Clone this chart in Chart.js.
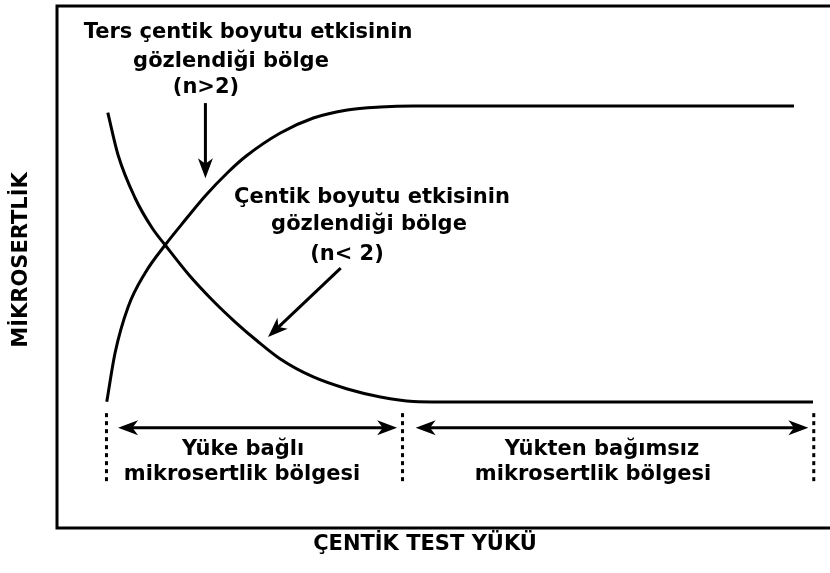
<!DOCTYPE html>
<html>
<head>
<meta charset="utf-8">
<script src="https://cdn.jsdelivr.net/npm/chart.js@4/dist/chart.umd.min.js"></script>
<style>
  html, body { margin: 0; padding: 0; background: #fff; }
  #wrap { width: 830px; height: 573px; }
</style>
</head>
<body>
<div id="wrap"><canvas id="c" width="830" height="573"></canvas></div>
<script>
// Indentation load (x) and microhardness (y), arbitrary units 0..100
const risingLoad = [6.44, 7.51, 9.20, 11.40, 13.99, 16.58, 19.17, 22.15, 24.48, 28.89, 33.16, 37.56, 41.84, 46.11, 95.34];
const risingHardness = [24.20, 33.52, 42.34, 48.85, 54.21, 58.99, 63.60, 68.20, 71.26, 75.67, 78.54, 80.08, 80.65, 80.84, 80.84];
const fallingLoad = [6.57, 7.90, 10.10, 12.31, 13.99, 16.97, 20.08, 23.06, 25.91, 28.89, 33.16, 37.56, 41.84, 46.11, 49.61, 97.80];
const fallingHardness = [79.56, 71.46, 63.22, 57.47, 54.21, 48.66, 43.68, 39.46, 35.82, 32.38, 28.93, 26.63, 25.10, 24.23, 24.14, 24.14];

// Region boundaries along the load axis and the span arrows between them
const boundaryLoads = [6.4, 44.7, 97.9];
const boundaryRange = [8.6, 22.0];
const spanStarts = [7.9, 46.4];
const spanEnds = [44.0, 97.2];
const spanLevel = 19.2;

// Texts
const xTitle = 'ÇENTİK TEST YÜKÜ';
const yTitle = 'MİKROSERTLİK';
const reverseLabel = ['Ters çentik boyutu etkisinin', 'gözlendiği bölge', '(n>2)'];
const normalLabel = ['Çentik boyutu etkisinin', 'gözlendiği bölge', '(n< 2)'];
const regionLabels = [['Yüke bağlı', 'mikrosertlik bölgesi'], ['Yükten bağımsız', 'mikrosertlik bölgesi']];

const toPoints = (xs, ys) => xs.map((x, i) => ({ x: x, y: ys[i] }));

const FONT = 'bold 21px "DejaVu Sans", Verdana, sans-serif';

function arrowHead(ctx, x1, y1, x2, y2, len, half) {
  const a = Math.atan2(y2 - y1, x2 - x1);
  const cos = Math.cos(a), sin = Math.sin(a);
  const bx = x2 - len * cos, by = y2 - len * sin;
  const nx = x2 - len * 0.72 * cos, ny = y2 - len * 0.72 * sin;
  ctx.beginPath();
  ctx.moveTo(x2, y2);
  ctx.lineTo(bx - half * sin, by + half * cos);
  ctx.lineTo(nx, ny);
  ctx.lineTo(bx + half * sin, by - half * cos);
  ctx.closePath();
  ctx.fill();
}

function arrow(ctx, x1, y1, x2, y2, both) {
  const a = Math.atan2(y2 - y1, x2 - x1);
  const c = Math.cos(a), s = Math.sin(a);
  ctx.beginPath();
  ctx.moveTo(both ? x1 + 10 * c : x1, both ? y1 + 10 * s : y1);
  ctx.lineTo(x2 - 10 * c, y2 - 10 * s);
  ctx.stroke();
  arrowHead(ctx, x1, y1, x2, y2, 20, 7.5);
  if (both) arrowHead(ctx, x2, y2, x1, y1, 20, 7.5);
}

const annotations = {
  id: 'annotations',
  afterDatasetsDraw(chart) {
    const ctx = chart.ctx;
    const xs = chart.scales.x, ys = chart.scales.y;
    const area = chart.chartArea;
    const X = v => xs.getPixelForValue(v);
    const Y = v => ys.getPixelForValue(v);
    ctx.save();
    ctx.fillStyle = '#000';
    ctx.strokeStyle = '#000';

    // frame
    ctx.lineWidth = 3;
    ctx.beginPath();
    ctx.moveTo(chart.width, area.top);
    ctx.lineTo(area.left, area.top);
    ctx.lineTo(area.left, area.bottom);
    ctx.lineTo(chart.width, area.bottom);
    ctx.stroke();

    // region boundaries
    ctx.setLineDash([4, 4]);
    boundaryLoads.forEach(b => {
      ctx.beginPath();
      ctx.moveTo(X(b), Y(boundaryRange[1]));
      ctx.lineTo(X(b), Y(boundaryRange[0]));
      ctx.stroke();
    });
    ctx.setLineDash([]);

    // span arrows
    ctx.lineWidth = 3;
    spanStarts.forEach((s, i) => arrow(ctx, X(s), Y(spanLevel), X(spanEnds[i]), Y(spanLevel), true));

    // pointer arrows
    arrow(ctx, X(19.2), Y(81.4), X(19.2), Y(67.0), false);
    arrow(ctx, X(36.7), Y(49.8), X(27.3), Y(36.6), false);

    // texts
    ctx.font = FONT;
    ctx.textAlign = 'center';
    ctx.textBaseline = 'middle';
    const lines = (arr, cx, cy) => arr.forEach((t, i) => ctx.fillText(t, cx[i], cy[i]));
    lines(reverseLabel, [248, 231, 206], [33, 62, 88]);
    lines(normalLabel, [372, 369, 347], [198, 225, 255]);
    lines(regionLabels[0], [243, 242], [450, 475]);
    lines(regionLabels[1], [602, 593], [450, 475]);

    // axis titles
    ctx.fillText(xTitle, 425, 545);
    ctx.translate(22, 260);
    ctx.rotate(-Math.PI / 2);
    ctx.fillText(yTitle, 0, 0);
    ctx.restore();
  }
};

new Chart(document.getElementById('c'), {
  type: 'line',
  data: {
    datasets: [
      { data: toPoints(risingLoad, risingHardness) },
      { data: toPoints(fallingLoad, fallingHardness) }
    ]
  },
  options: {
    responsive: false,
    animation: false,
    devicePixelRatio: 1,
    layout: { padding: { left: 57, top: 6, right: 0, bottom: 45 } },
    elements: {
      line: { borderColor: '#000', borderWidth: 3, cubicInterpolationMode: 'monotone', fill: false },
      point: { radius: 0, hoverRadius: 0 }
    },
    scales: {
      x: { type: 'linear', min: 0, max: 100, display: false },
      y: { type: 'linear', min: 0, max: 100, display: false }
    },
    plugins: { legend: { display: false }, tooltip: { enabled: false } }
  },
  plugins: [annotations]
});
</script>
</body>
</html>
